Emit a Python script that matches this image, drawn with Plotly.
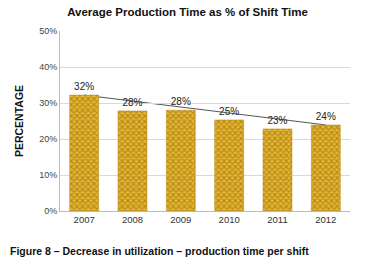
import plotly.graph_objects as go

years = ["2007", "2008", "2009", "2010", "2011", "2012"]
values = [32.2, 27.8, 28.0, 25.3, 22.8, 23.9]
labels = ["32%", "28%", "28%", "25%", "23%", "24%"]
y_ticks = [0, 10, 20, 30, 40, 50]
y_tick_text = ["0%", "10%", "20%", "30%", "40%", "50%"]

fig = go.Figure()
fig.add_trace(go.Bar(
    x=years, y=values, width=0.6,
    marker=dict(
        color="#E2AC2C",
        line=dict(color="#B88A1E", width=0.5),
        pattern=dict(shape="x", fgcolor="#80600F", bgcolor="#E8B62E", size=4, solidity=0.5),
    ),
    text=labels, textposition="outside", cliponaxis=False,
    textfont=dict(family="Liberation Sans, Arial", size=10, color="#222222"),
    showlegend=False,
))

# trend line from first to last value (category indices), drawn behind the bars
fig.add_shape(
    type="line", xref="x", yref="y",
    x0=0, y0=values[0], x1=len(years) - 1, y1=values[-1],
    line=dict(color="#555555", width=1), layer="below",
)

fig.update_layout(
    width=375, height=266,
    margin=dict(l=60, r=25, t=31, b=55),
    paper_bgcolor="white", plot_bgcolor="white",
    bargap=0.4,
    title=dict(
        text="<b>Average Production Time as % of Shift Time</b>",
        x=0.5, xanchor="center", y=0.955, yanchor="middle",
        font=dict(family="Liberation Sans, Arial", size=11.5, color="#111111"),
    ),
    xaxis=dict(
        type="category", categoryorder="array", categoryarray=years,
        showline=True, linecolor="#BBBBBB", linewidth=1,
        ticks="", tickfont=dict(family="Liberation Sans, Arial", size=9.5, color="#333333"),
        showgrid=False,
    ),
    yaxis=dict(
        range=[0, 50], tickvals=y_ticks, ticktext=y_tick_text,
        showline=True, linecolor="#BBBBBB", linewidth=1,
        showgrid=True, gridcolor="#D9D9D9", gridwidth=1,
        zeroline=False, ticks="",
        tickfont=dict(family="Liberation Sans, Arial", size=9, color="#444444"),
        title=dict(text="<b>PERCENTAGE</b>", standoff=13,
                   font=dict(family="Liberation Sans, Arial", size=10.5, color="#111111")),
    ),
    annotations=[dict(
        text="<b>Figure 8 – Decrease in utilization – production time per shift</b>",
        xref="paper", yref="paper", x=0, y=0, xanchor="left", yanchor="middle",
        xshift=-52, yshift=-40,
        showarrow=False,
        font=dict(family="Liberation Sans Narrow, Liberation Sans, Arial", size=10.5, color="#111111"),
    )],
)

fig.write_html(
    "out.html",
    config={"displayModeBar": False},
    post_script="document.body.style.margin='0';document.body.style.padding='0';",
)
